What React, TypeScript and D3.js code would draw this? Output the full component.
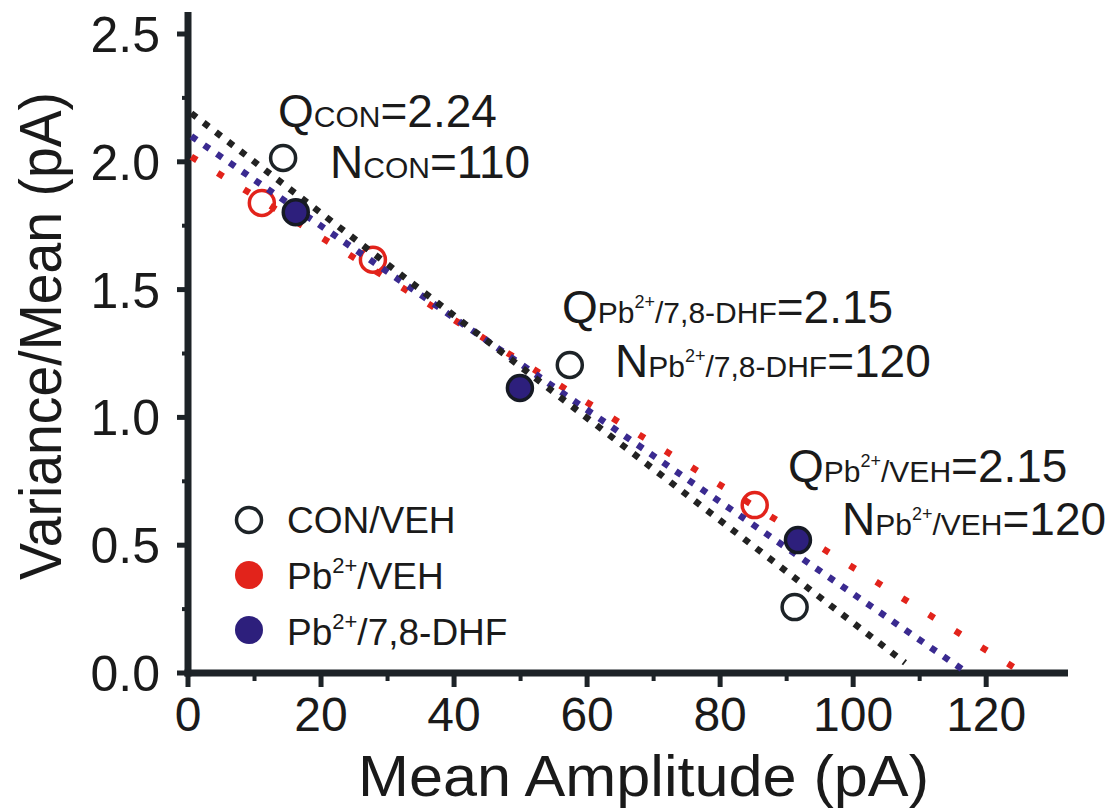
import * as d3 from 'd3';

// open black circles
const CON_X = [14.3, 57.4, 91.2];
const CON_Y = [2.015, 1.205, 0.258];
// open red circles
const VEH_X = [11.1, 27.8, 85.2];
const VEH_Y = [1.839, 1.617, 0.657];
// filled navy circles
const DHF_X = [16.2, 49.9, 91.7];
const DHF_Y = [1.803, 1.115, 0.52];

// fitted lines (end points)
const CON_FIT_X = [0.5, 107.8];
const CON_FIT_Y = [2.19, 0.04];
const DHF_FIT_X = [0.5, 117.2];
const DHF_FIT_Y = [2.10, 0.0];
const VEH_FIT_X = [0.5, 124.3];
const VEH_FIT_Y = [2.02, 0.02];

const X_TICKS = [0, 20, 40, 60, 80, 100, 120];
const X_MINOR = [10, 30, 50, 70, 90, 110];
const Y_TICKS = [0, 0.5, 1.0, 1.5, 2.0, 2.5];
const Y_MINOR = [0.25, 0.75, 1.25, 1.75, 2.25];

const BLACK = '#1d2327';
const RED = '#e2231b';
const NAVY = '#2d1f7c';
const FONT = '"Liberation Sans", Arial, Helvetica, sans-serif';

const zip = (xs: number[], ys: number[]) => xs.map((v, i) => [v, ys[i]] as [number, number]);

function Label({ x, y, anchor = 'start', size, children }: any) {
  return (
    <text x={x} y={y} textAnchor={anchor} fontSize={size} fill="#1a1a1a" fontFamily={FONT}>
      {children}
    </text>
  );
}

// big letter + smaller subscript-like text sitting on the baseline
function Param({ x, y, letter, sub, value }: any) {
  const small = 30;
  return (
    <Label x={x} y={y} size={46}>
      <tspan>{letter}</tspan>
      {sub === 'CON' ? <tspan fontSize={small}>CON</tspan> : (
        <>
          <tspan fontSize={small}>Pb</tspan>
          <tspan fontSize={18} dy={-15}>2+</tspan>
          <tspan fontSize={small} dy={15}>/{sub}</tspan>
        </>
      )}
      <tspan>{value}</tspan>
    </Label>
  );
}

export default function App() {
  const x = d3.scaleLinear().domain([0, 132.3]).range([188, 1068]);
  const y = d3.scaleLinear().domain([0, 2.5]).range([673, 34]);
  const line = d3.line<[number, number]>().x(d => x(d[0])).y(d => y(d[1]));

  const fits = [
    { pts: zip(VEH_FIT_X, VEH_FIT_Y), color: RED, dash: '6.5 24.5' },
    { pts: zip(DHF_FIT_X, DHF_FIT_Y), color: '#3a2a90', dash: '6.5 9' },
    { pts: zip(CON_FIT_X, CON_FIT_Y), color: '#222', dash: '6.5 9' },
  ];

  return (
    <svg width={1112} height={811} style={{ position: 'absolute', left: 0, top: 0, background: '#fff' }}>
      {/* axes */}
      <line x1={x(0)} x2={x(0)} y1={12} y2={y(0) + 3.5} stroke={BLACK} strokeWidth={7} />
      <line x1={x(0) - 3.5} x2={x(132.3)} y1={y(0)} y2={y(0)} stroke={BLACK} strokeWidth={7} />
      {Y_TICKS.map(t => (
        <g key={t}>
          <line x1={x(0) - 11} x2={x(0)} y1={y(t)} y2={y(t)} stroke={BLACK} strokeWidth={5} />
          <Label x={160} y={y(t) + 18} anchor="end" size={50}>{t.toFixed(1)}</Label>
        </g>
      ))}
      {Y_MINOR.map(t => (
        <line key={t} x1={x(0) - 6} x2={x(0)} y1={y(t)} y2={y(t)} stroke={BLACK} strokeWidth={4} />
      ))}
      {X_TICKS.map(t => (
        <g key={t}>
          <line x1={x(t)} x2={x(t)} y1={y(0)} y2={y(0) + 14} stroke={BLACK} strokeWidth={5} />
          <Label x={x(t)} y={731} anchor="middle" size={48}>{t}</Label>
        </g>
      ))}
      {X_MINOR.map(t => (
        <line key={t} x1={x(t)} x2={x(t)} y1={y(0)} y2={y(0) + 8} stroke={BLACK} strokeWidth={4} />
      ))}

      <text x={358} y={796} fontSize={57} fill="#1a1a1a" fontFamily={FONT}
        textLength={571} lengthAdjust="spacingAndGlyphs">
        Mean Amplitude (pA)
      </text>
      <text transform={`translate(61,${580}) rotate(-90)`} fontSize={60} fill="#1a1a1a" fontFamily={FONT}
        textLength={488} lengthAdjust="spacingAndGlyphs">
        Variance/Mean (pA)
      </text>

      {/* open markers under the fitted lines */}
      {zip(VEH_X, VEH_Y).map((p, i) => (
        <circle key={'v' + i} cx={x(p[0])} cy={y(p[1])} r={12.5} fill="none" stroke={RED} strokeWidth={3.5} />
      ))}
      {zip(CON_X, CON_Y).map((p, i) => (
        <circle key={'c' + i} cx={x(p[0])} cy={y(p[1])} r={12.5} fill="none" stroke={BLACK} strokeWidth={3.5} />
      ))}

      {/* fitted lines */}
      {fits.map((f, i) => (
        <path key={i} d={line(f.pts) || ''} fill="none" stroke={f.color} strokeWidth={6.5}
          strokeDasharray={f.dash} />
      ))}

      {zip(DHF_X, DHF_Y).map((p, i) => (
        <circle key={'d' + i} cx={x(p[0])} cy={y(p[1])} r={12.5} fill={NAVY} stroke="#161a24" strokeWidth={3.5} />
      ))}

      {/* annotations */}
      <Param x={278} y={127} letter="Q" sub="CON" value="=2.24" />
      <Param x={330} y={178} letter="N" sub="CON" value="=110" />
      <Param x={562} y={323} letter="Q" sub="7,8-DHF" value="=2.15" />
      <Param x={615} y={377} letter="N" sub="7,8-DHF" value="=120" />
      <Param x={788} y={482} letter="Q" sub="VEH" value="=2.15" />
      <Param x={842} y={535} letter="N" sub="VEH" value="=120" />

      {/* legend */}
      <circle cx={249} cy={520} r={12.5} fill="none" stroke={BLACK} strokeWidth={3.5} />
      <circle cx={249} cy={575} r={14} fill={RED} />
      <circle cx={249} cy={630} r={14} fill={NAVY} />
      <Label x={287} y={533} size={37}>CON/VEH</Label>
      <Label x={287} y={589} size={37}>
        <tspan>Pb</tspan><tspan fontSize={22} dy={-16}>2+</tspan><tspan dy={16}>/VEH</tspan>
      </Label>
      <Label x={287} y={645} size={37}>
        <tspan>Pb</tspan><tspan fontSize={22} dy={-16}>2+</tspan><tspan dy={16}>/7,8-DHF</tspan>
      </Label>
    </svg>
  );
}
